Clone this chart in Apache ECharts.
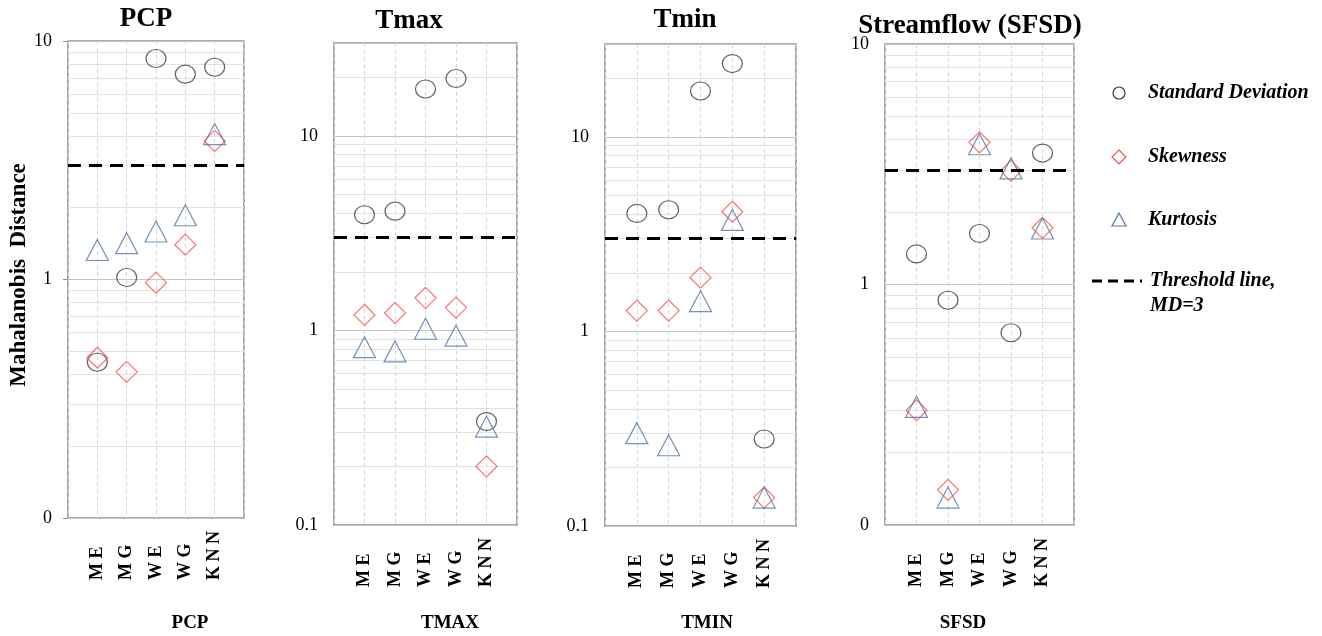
<!DOCTYPE html>
<html>
<head>
<meta charset="utf-8">
<script src="https://cdn.jsdelivr.net/npm/echarts@6/dist/echarts.min.js"></script>
<style>
html,body{margin:0;padding:0;background:#fff;}
#chart{width:1322px;height:636px;}
</style>
</head>
<body>
<div id="chart"></div>
<script>
// categories and values
var categories = ['M E', 'M G', 'W E', 'W G', 'K N N'];
var pcpSD   = [0.45, 1.02, 8.45, 7.26, 7.76];
var pcpSkew = [0.47, 0.41, 0.97, 1.40, 3.81];
var pcpKurt = [1.33, 1.42, 1.59, 1.86, 4.07];
var tmaxSD   = [3.93, 4.10, 17.4, 19.7, 0.34];
var tmaxSkew = [1.20, 1.23, 1.47, 1.31, 0.20];
var tmaxKurt = [0.82, 0.78, 1.02, 0.94, 0.32];
var tminSD   = [4.04, 4.22, 17.2, 23.8, 0.28];
var tminSkew = [1.28, 1.28, 1.89, 4.12, 0.14];
var tminKurt = [0.30, 0.26, 1.43, 3.74, 0.14];
var sfsdSD   = [1.34, 0.86, 1.63, 0.63, 3.52];
var sfsdSkew = [0.30, 0.14, 3.90, 2.97, 1.72];
var sfsdKurt = [0.31, 0.13, 3.83, 3.04, 1.71];
var threshold = 3;
var minorGrid = [0.2, 0.3, 0.4, 0.5, 0.6, 0.7, 0.8, 0.9, 2, 3, 4, 5, 6, 7, 8, 9, 20, 30];

var serif = 'Liberation Serif';
var panels = [
  {title: 'PCP', bottom: 'PCP', left: 68, top: 41, width: 176, height: 477, max: 10, minLabel: '0', tick: true,
   titleX: 146, titleY: 19, bottomX: 190, sd: pcpSD, skew: pcpSkew, kurt: pcpKurt},
  {title: 'Tmax', bottom: 'TMAX', left: 334, top: 43, width: 183, height: 482, max: 30, minLabel: '0.1', tick: false,
   titleX: 409, titleY: 21, bottomX: 450, sd: tmaxSD, skew: tmaxSkew, kurt: tmaxKurt},
  {title: 'Tmin', bottom: 'TMIN', left: 605, top: 44, width: 191, height: 482, max: 30, minLabel: '0.1', tick: false,
   titleX: 685, titleY: 20, bottomX: 707, sd: tminSD, skew: tminSkew, kurt: tminKurt},
  {title: 'Streamflow (SFSD)', bottom: 'SFSD', left: 885, top: 44, width: 189, height: 481, max: 10, minLabel: '0', tick: false,
   titleX: 970, titleY: 26, bottomX: 963, sd: sfsdSD, skew: sfsdSkew, kurt: sfsdKurt}
];

var chart = echarts.init(document.getElementById('chart'));
var grids = [], xAxes = [], yAxes = [], series = [], graphics = [];

function pairs(vals){
  return vals.map(function(v, i){ return [categories[i], v]; });
}

panels.forEach(function(p, idx){
  grids.push({left: p.left, top: p.top, width: p.width, height: p.height, show: true,
    borderColor: '#8f8f8f', borderWidth: 1.5, backgroundColor: 'transparent'});
  xAxes.push({
    type: 'category', gridIndex: idx, boundaryGap: false,
    data: [''].concat(categories, ['']),
    axisLine: {show: false}, axisTick: {show: false},
    axisLabel: {interval: 0, rotate: 90, align: 'left', verticalAlign: 'middle', margin: 62,
      fontFamily: serif, fontWeight: 'bold', fontSize: 18, color: '#000'},
    splitLine: {show: true, interval: 0, lineStyle: {color: '#d6d6d6', type: [4, 3], width: 1}}
  });
  yAxes.push({
    type: 'log', logBase: 10, gridIndex: idx, min: 0.1, max: p.max,
    axisLine: {show: false},
    axisTick: {show: p.tick, length: 5, lineStyle: {color: '#8f8f8f'}},
    axisLabel: {margin: 16, fontFamily: serif, fontSize: 18, color: '#000',
      formatter: function(v){
        if (Math.abs(v - 0.1) < 1e-6) return p.minLabel;
        if (Math.abs(v - 1) < 1e-6) return '1';
        if (Math.abs(v - 10) < 1e-6) return '10';
        return '';
      }},
    splitLine: {show: true, lineStyle: {color: '#c4c4c4', width: 1}}
  });
  series.push({
    name: 'Standard Deviation', type: 'scatter', xAxisIndex: idx, yAxisIndex: idx,
    symbol: 'circle', symbolSize: [20, 18], data: pairs(p.sd),
    itemStyle: {color: 'rgba(0,0,0,0)', borderColor: '#3a3a3a', borderWidth: 1.2},
    markLine: {silent: true, symbol: ['none', 'none'], z: 1, animation: false,
      label: {show: false}, lineStyle: {color: '#e2e2e2', type: 'solid', width: 1},
      data: minorGrid.filter(function(v){ return v < p.max; }).map(function(v){ return {yAxis: v}; })}
  });
  series.push({
    name: 'Skewness', type: 'scatter', xAxisIndex: idx, yAxisIndex: idx,
    symbol: 'diamond', symbolSize: [21, 21], data: pairs(p.skew),
    itemStyle: {color: 'rgba(0,0,0,0)', borderColor: '#ff4d4d', borderWidth: 1.2}
  });
  series.push({
    name: 'Kurtosis', type: 'scatter', xAxisIndex: idx, yAxisIndex: idx,
    symbol: 'triangle', symbolSize: [22, 21], data: pairs(p.kurt),
    itemStyle: {color: 'rgba(0,0,0,0)', borderColor: '#4f78a8', borderWidth: 1.2},
    markLine: {silent: true, symbol: ['none', 'none'], animation: false,
      label: {show: false}, lineStyle: {color: '#000', type: [13, 8], width: 3},
      data: [{yAxis: threshold}]}
  });
  graphics.push({type: 'text', x: p.titleX, y: p.titleY,
    style: {text: p.title, font: 'bold 27px ' + serif, fill: '#000', align: 'center', verticalAlign: 'middle'}});
  graphics.push({type: 'text', x: p.bottomX, y: 623,
    style: {text: p.bottom, font: 'bold 19px ' + serif, fill: '#000', align: 'center', verticalAlign: 'middle'}});
});

// y axis name
graphics.push({type: 'text', x: 19, y: 275, rotation: Math.PI / 2,
  style: {text: 'Mahalanobis  Distance', font: 'bold 23px ' + serif, fill: '#000', align: 'center', verticalAlign: 'middle'}});

// legend
var legendFont = 'italic bold 20px ' + serif;
graphics.push({type: 'circle', shape: {cx: 1119, cy: 93, r: 6}, style: {fill: 'none', stroke: '#3a3a3a', lineWidth: 1.2}});
graphics.push({type: 'text', x: 1148, y: 93, style: {text: 'Standard Deviation', font: legendFont, fill: '#000', verticalAlign: 'middle'}});
graphics.push({type: 'polygon', shape: {points: [[1119, 150], [1126, 157], [1119, 164], [1112, 157]]}, style: {fill: 'none', stroke: '#ff4d4d', lineWidth: 1.2}});
graphics.push({type: 'text', x: 1148, y: 157, style: {text: 'Skewness', font: legendFont, fill: '#000', verticalAlign: 'middle'}});
graphics.push({type: 'polygon', shape: {points: [[1119, 213], [1126, 226], [1112, 226]]}, style: {fill: 'none', stroke: '#4f78a8', lineWidth: 1.2}});
graphics.push({type: 'text', x: 1148, y: 220, style: {text: 'Kurtosis', font: legendFont, fill: '#000', verticalAlign: 'middle'}});
graphics.push({type: 'line', shape: {x1: 1092, y1: 281, x2: 1142, y2: 281}, style: {stroke: '#000', lineWidth: 3, lineDash: [10, 6]}});
graphics.push({type: 'text', x: 1150, y: 281, style: {text: 'Threshold line,', font: legendFont, fill: '#000', verticalAlign: 'middle'}});
graphics.push({type: 'text', x: 1150, y: 306, style: {text: 'MD=3', font: legendFont, fill: '#000', verticalAlign: 'middle'}});

chart.setOption({
  animation: false,
  backgroundColor: '#fff',
  grid: grids,
  xAxis: xAxes,
  yAxis: yAxes,
  series: series,
  graphic: graphics
});
</script>
</body>
</html>
